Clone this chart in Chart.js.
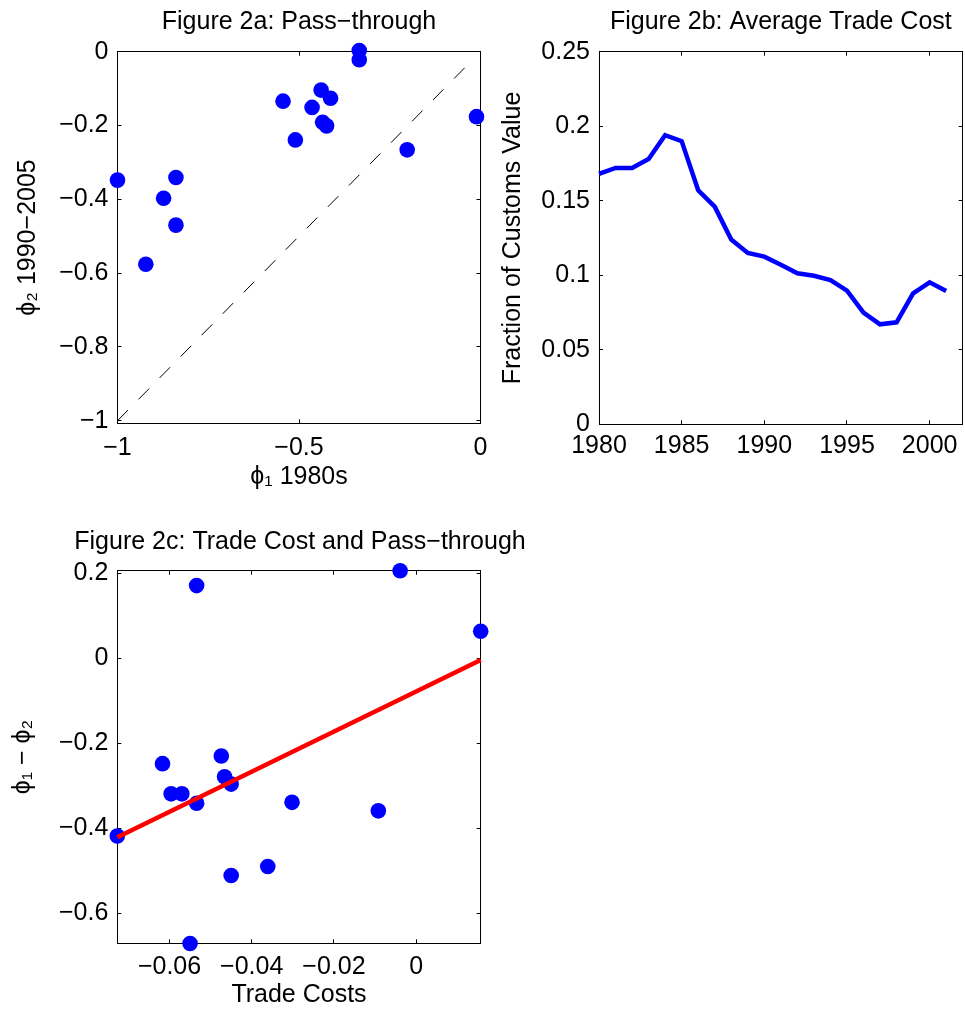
<!DOCTYPE html>
<html>
<head>
<meta charset="utf-8">
<script src="https://cdn.jsdelivr.net/npm/chart.js@4.4.1/dist/chart.umd.min.js"></script>
<style>
    html, body { margin: 0; padding: 0; background: #fff; overflow: hidden; }
    body { width: 965px; height: 1012px; position: relative; }
    canvas { position: absolute; }
</style>
</head>
<body>
<canvas id="chart__pass" width="520" height="500" style="left:0px;top:0px"></canvas>
<canvas id="chart__cost" width="490" height="500" style="left:490px;top:0px"></canvas>
<canvas id="chart__scatter" width="600" height="502" style="left:0px;top:510px"></canvas>
<script>
// Figure 2a: pass-through in the 1980s vs 1990-2005
const passX = [-1.0, -0.873, -0.839, -0.839, -0.922, -0.544, -0.510, -0.464, -0.439, -0.413, -0.435, -0.424, -0.334, -0.334, -0.202, -0.011]
const passY = [-0.348, -0.397, -0.341, -0.470, -0.576, -0.134, -0.239, -0.151, -0.104, -0.126, -0.191, -0.201, 0.003, -0.022, -0.266, -0.176]
const diagX = [-1, -0.035]
const passTicksX = [-1, -0.5, 0]
const passTicksY = [-1, -0.8, -0.6, -0.4, -0.2, 0]

// Figure 2b: average trade cost by year
const years = [1980, 1981, 1982, 1983, 1984, 1985, 1986, 1987, 1988, 1989, 1990, 1991, 1992, 1993, 1994, 1995, 1996, 1997, 1998, 1999, 2000, 2001]
const tradeCost = [0.168, 0.172, 0.172, 0.178, 0.194, 0.190, 0.157, 0.146, 0.124, 0.115, 0.1125, 0.107, 0.1013, 0.0997, 0.0968, 0.0897, 0.0749, 0.0671, 0.0684, 0.0879, 0.0953, 0.0894]
const costTicksX = [1980, 1985, 1990, 1995, 2000]
const costTicksY = [0, 0.05, 0.1, 0.15, 0.2, 0.25]

// Figure 2c: trade costs vs change in pass-through
const costX = [-0.0534, -0.0039, 0.0157, -0.0617, -0.0474, -0.0466, -0.0450, -0.0596, -0.0570, -0.0534, -0.0302, -0.0092, -0.0727, -0.0361, -0.0450, -0.0550]
const diffY = [0.171, 0.206, 0.0635, -0.248, -0.230, -0.279, -0.296, -0.319, -0.319, -0.341, -0.339, -0.359, -0.418, -0.490, -0.511, -0.671]
const fitX = [-0.0727, 0.0157]
const fitY = [-0.421, -0.004]
const scatterTicksX = [-0.06, -0.04, -0.02, 0]
const scatterTicksY = [-0.6, -0.4, -0.2, 0, 0.2]

Chart.defaults.font.family = "'Liberation Sans', Arial, Helvetica, sans-serif"
Chart.defaults.font.size = 25
Chart.defaults.color = '#000'
Chart.defaults.animation = false

const BLUE = '#0000ff'
const RED = '#ff0000'

const toPoints = (xs, ys) => xs.map((x, i) => ({ x: x, y: ys[i] }))
const fmt = v => String(v).replace('-', '\u2212')
const setTicks = arr => scale => { scale.ticks = arr.map(v => ({ value: v })) }

// matlab style box: ticks pointing inwards on all four sides
function boxScales(o) {
    const grid = {
        drawOnChartArea: false,
        drawTicks: true,
        tickLength: -4,
        tickColor: '#000',
        tickWidth: 1
    }
    const border = { display: true, color: '#000', width: 1 }
    return {
        x: {
            type: 'linear', position: 'bottom', min: o.xMin, max: o.xMax,
            afterBuildTicks: setTicks(o.xTicks),
            afterFit: s => { s.height = o.xHeight },
            grid: grid, border: border,
            ticks: { padding: o.xPad, maxRotation: 0, minRotation: 0, autoSkip: false, callback: fmt },
            title: { display: !!o.xTitle, text: o.xTitle, padding: { top: 0, bottom: o.xTitlePad } }
        },
        y: {
            type: 'linear', position: 'left', min: o.yMin, max: o.yMax,
            afterBuildTicks: setTicks(o.yTicks),
            afterFit: s => { s.width = o.yWidth },
            grid: grid, border: border,
            ticks: { padding: 13, autoSkip: false, callback: fmt },
            title: { display: true, text: o.yTitle, padding: { top: o.yTitlePad, bottom: 0 } }
        },
        x2: {
            type: 'linear', position: 'top', min: o.xMin, max: o.xMax,
            afterBuildTicks: setTicks(o.xTicks),
            afterFit: s => { s.height = 0 },
            grid: grid, border: border,
            ticks: { display: false }
        },
        y2: {
            type: 'linear', position: 'right', min: o.yMin, max: o.yMax,
            afterBuildTicks: setTicks(o.yTicks),
            afterFit: s => { s.width = o.rightWidth || 0 },
            grid: grid, border: border,
            ticks: { display: false }
        }
    }
}

function titleOpts(text, top, bottom, fullSize) {
    return {
        display: true,
        text: text,
        fullSize: fullSize,
        font: { size: 25, weight: 'normal' },
        color: '#000',
        padding: { top: top, bottom: bottom }
    }
}

const chartPass = document.getElementById('chart__pass')
const chartCost = document.getElementById('chart__cost')
const chartScatter = document.getElementById('chart__scatter')

new Chart(chartPass, {
    type: 'scatter',
    data: {
        datasets: [{
            type: 'line',
            data: toPoints(diagX, diagX),
            showLine: true,
            borderColor: '#000',
            borderWidth: 1,
            borderDash: [15, 15],
            pointRadius: 0,
            clip: false
        }, {
            data: toPoints(passX, passY),
            backgroundColor: BLUE,
            borderWidth: 0,
            pointRadius: 7.8,
            pointHoverRadius: 7.8,
            clip: false
        }]
    },
    options: {
        responsive: false,
        layout: { padding: { left: 0, right: 39.5, top: 0, bottom: 0 } },
        plugins: {
            legend: { display: false },
            tooltip: { enabled: false },
            title: titleOpts('Figure 2a: Pass\u2212through', 7.3, 14.4, false)
        },
        scales: boxScales({
            xMin: -1, xMax: 0, yMin: -1.007, yMax: 0,
            xTicks: passTicksX, yTicks: passTicksY,
            xHeight: 76.7, yWidth: 117.5, xPad: 13.7,
            xTitle: '\u03d5\u2081 1980s', xTitlePad: 7.5,
            yTitle: '\u03d5\u2082 1990\u22122005', yTitlePad: 13.3
        })
    }
})

new Chart(chartCost, {
    type: 'line',
    data: {
        datasets: [{
            data: toPoints(years, tradeCost),
            borderColor: BLUE,
            borderWidth: 4.5,
            pointRadius: 0,
            tension: 0,
            clip: false
        }]
    },
    options: {
        responsive: false,
        layout: { padding: { left: 0, right: 17.3, top: 0, bottom: 0 } },
        plugins: {
            legend: { display: false },
            tooltip: { enabled: false },
            title: titleOpts('Figure 2b: Average Trade Cost', 7.3, 14.4, false)
        },
        scales: boxScales({
            xMin: 1980, xMax: 2002, yMin: 0, yMax: 0.25,
            xTicks: costTicksX, yTicks: costTicksY,
            xHeight: 75.7, yWidth: 109, xPad: 10.9,
            xTitle: '', xTitlePad: 0,
            yTitle: 'Fraction of Customs Value', yTitlePad: 8.3
        })
    }
})

new Chart(chartScatter, {
    type: 'scatter',
    data: {
        datasets: [{
            type: 'line',
            data: toPoints(fitX, fitY),
            showLine: true,
            borderColor: RED,
            borderWidth: 4.5,
            pointRadius: 0,
            clip: false
        }, {
            data: toPoints(costX, diffY),
            backgroundColor: BLUE,
            borderWidth: 0,
            pointRadius: 7.8,
            pointHoverRadius: 7.8,
            clip: false
        }]
    },
    options: {
        responsive: false,
        layout: { padding: 0 },
        plugins: {
            legend: { display: false },
            tooltip: { enabled: false },
            title: titleOpts('Figure 2c: Trade Cost and Pass\u2212through', 16.7, 14, true)
        },
        scales: boxScales({
            xMin: -0.0727, xMax: 0.0157, yMin: -0.6706, yMax: 0.206,
            xTicks: scatterTicksX, yTicks: scatterTicksY,
            xHeight: 68.7, yWidth: 117.3, xPad: 12.9, rightWidth: 119.3,
            xTitle: 'Trade Costs', xTitlePad: 1.5,
            yTitle: '\u03d5\u2081 \u2212 \u03d5\u2082', yTitlePad: 7.7
        })
    }
})
</script>
</body>
</html>
